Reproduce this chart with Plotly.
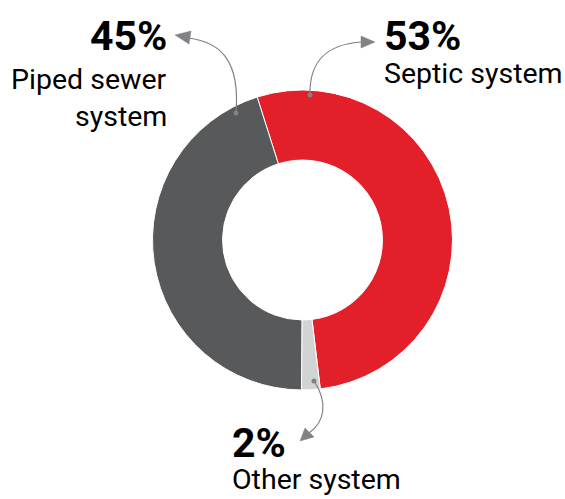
import plotly.graph_objects as go

# ---- data ----
categories = ["Septic system", "Other system", "Piped sewer system"]
values = [53, 2, 45]
pct_labels = ["53%", "2%", "45%"]

# ---- style ----
colors = ["#e3202a", "#d1d3d4", "#58595b"]
W, H = 565, 499
FONT = "Roboto, Lato, sans-serif"
ARROW = "#808285"


def px(x):
    return x / W


def py(y):
    return 1 - y / H


fig = go.Figure(go.Pie(
    labels=categories,
    values=values,
    sort=False,
    direction="clockwise",
    rotation=-17.6,
    hole=0.533,
    marker=dict(colors=colors, line=dict(color="white", width=1)),
    textinfo="none",
    hoverinfo="label+percent",
    showlegend=False,
    domain=dict(x=[px(152), px(453)], y=[py(390), py(90)]),
))

annotations = []


def label(text, x, y, anchor, size, bold=False):
    annotations.append(dict(
        text=f"<b>{text}</b>" if bold else text,
        x=px(x), y=py(y), xref="paper", yref="paper",
        xanchor=anchor, yanchor="middle", showarrow=False,
        font=dict(family=FONT, size=size, color="#000000"),
        borderpad=0,
    ))


# Piped sewer (right aligned)
label(pct_labels[2], 168, 36, "right", 41, bold=True)
label("Piped sewer", 168, 79, "right", 28.5)
label("system", 168, 116, "right", 28.5)
# Septic
label(pct_labels[0], 383, 36, "left", 41, bold=True)
label("Septic system", 383, 73, "left", 28.5)
# Other
label(pct_labels[1], 231, 443, "left", 41, bold=True)
label("Other system", 231, 479, "left", 28.5)

shapes = []


def curve(p0, c1, c2, p3):
    path = "M {} {} C {} {}, {} {}, {} {}".format(
        px(p0[0]), py(p0[1]), px(c1[0]), py(c1[1]),
        px(c2[0]), py(c2[1]), px(p3[0]), py(p3[1]))
    shapes.append(dict(type="path", path=path, xref="paper", yref="paper",
                       line=dict(color=ARROW, width=1.2)))


def head(tip, a, b):
    path = "M {} {} L {} {} L {} {} Z".format(
        px(tip[0]), py(tip[1]), px(a[0]), py(a[1]), px(b[0]), py(b[1]))
    shapes.append(dict(type="path", path=path, xref="paper", yref="paper",
                       fillcolor=ARROW, line=dict(color=ARROW, width=0.5)))


def dot(c, r=2.5):
    shapes.append(dict(type="circle", xref="paper", yref="paper",
                       x0=px(c[0] - r), x1=px(c[0] + r),
                       y0=py(c[1] + r), y1=py(c[1] - r),
                       fillcolor=ARROW, line=dict(width=0)))


# Piped arrow
curve((236, 113), (240, 62), (222, 42), (188, 38))
head((175, 35), (191, 31), (189, 44))
dot((236, 113))
# Septic arrow
curve((310, 95), (309, 58), (330, 44), (362, 42))
head((375, 42), (361, 36), (361, 48))
dot((310, 95))
# Other arrow
curve((314, 381), (328, 402), (325, 422), (309, 433))
head((300, 441), (305, 428), (314, 437))
dot((314, 381))

fig.update_layout(
    width=W, height=H,
    margin=dict(l=0, r=0, t=0, b=0),
    paper_bgcolor="white", plot_bgcolor="white",
    annotations=annotations, shapes=shapes,
)

fig.write_html("out.html",
               config={"displayModeBar": False},
               post_script="document.body.style.margin='0px';"
                           "document.body.style.overflow='hidden';")
